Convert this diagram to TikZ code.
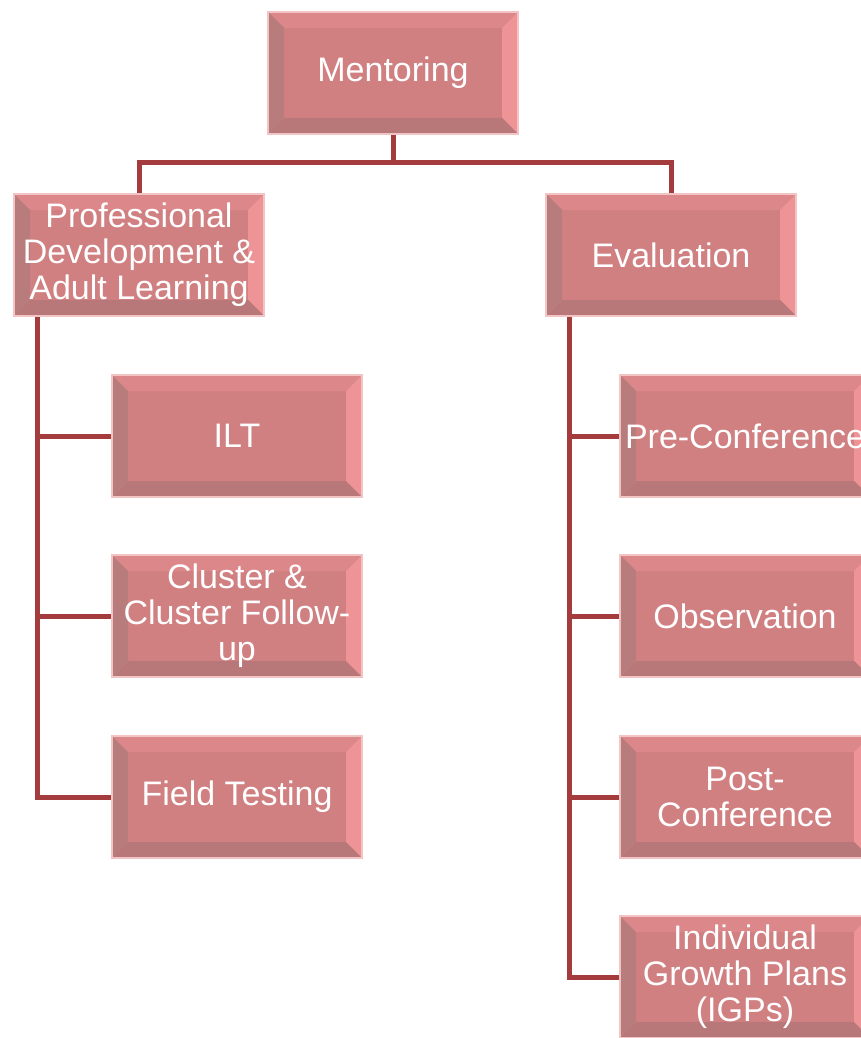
\documentclass[tikz,border=0pt]{standalone}
\usepackage{fontspec}
\setmainfont{Liberation Sans}
\usetikzlibrary{calc}
\definecolor{boxred}{RGB}{209,128,130}
\definecolor{boxedge}{RGB}{242,196,196}
\definecolor{bevtop}{RGB}{220,136,138}
\definecolor{bevright}{RGB}{238,148,150}
\definecolor{bevleft}{RGB}{184,124,124}
\definecolor{bevbottom}{RGB}{184,120,122}
\definecolor{linkred}{RGB}{164,60,62}

\begin{document}
\begin{tikzpicture}[x=1pt,y=-1pt,
  unit/.style={draw=boxedge,line width=2pt,fill=boxred,minimum width=250pt,minimum height=122pt,
    inner sep=0,text=white,align=center,font=\fontsize{34}{36}\selectfont,
    path picture={
      \coordinate (nw) at (path picture bounding box.north west);
      \coordinate (ne) at (path picture bounding box.north east);
      \coordinate (sw) at (path picture bounding box.south west);
      \coordinate (se) at (path picture bounding box.south east);
      \fill[bevtop] (nw) -- (ne) -- ++(-16pt,-16pt) -- ($(nw)+(16pt,-16pt)$) -- cycle;
      \fill[bevright] (ne) -- (se) -- ++(-16pt,16pt) -- ($(ne)+(-16pt,-16pt)$) -- cycle;
      \fill[bevbottom] (sw) -- (se) -- ++(-16pt,16pt) -- ($(sw)+(16pt,16pt)$) -- cycle;
      \fill[bevleft] (nw) -- (sw) -- ++(16pt,16pt) -- ($(nw)+(16pt,-16pt)$) -- cycle;
    }},
  link/.style={draw=linkred,line width=5pt}]
\useasboundingbox (0,0) rectangle (861,1038);
\clip (0,0) rectangle (861,1038);

% top levels
\node[unit] (mentor) at (393,73) {Mentoring};
\node[unit] (pd) at (139,255) {Professional\\Development \&\\Adult Learning};
\node[unit] (eval) at (671,255) {Evaluation};

% children
\foreach \nm/\y/\txt in {ilt/436/ILT, cluster/616/{Cluster \&\\Cluster Follow-\\up}, field/797/Field Testing}
  \node[unit] (\nm) at (237,\y) {\txt};
\foreach \nm/\y/\txt in {pre/436/Pre-Conference, obs/616/Observation, post/797/{Post-\\Conference},
  igp/977/{Individual\\Growth Plans\\(IGPs)}}
  \node[unit] (\nm) at (745,\y) {\txt};

% connectors
\draw[link] (mentor.south) -- ++(0,27) coordinate (hub) -| (pd.north);
\draw[link] (hub) -| (eval.north);
\coordinate (lspine) at ($(pd.south west)+(24,0)$);
\coordinate (rspine) at ($(eval.south west)+(24,0)$);
\foreach \nm in {ilt,cluster,field} \draw[link] (lspine) |- (\nm.west);
\foreach \nm in {pre,obs,post,igp} \draw[link] (rspine) |- (\nm.west);
\end{tikzpicture}
\end{document}
